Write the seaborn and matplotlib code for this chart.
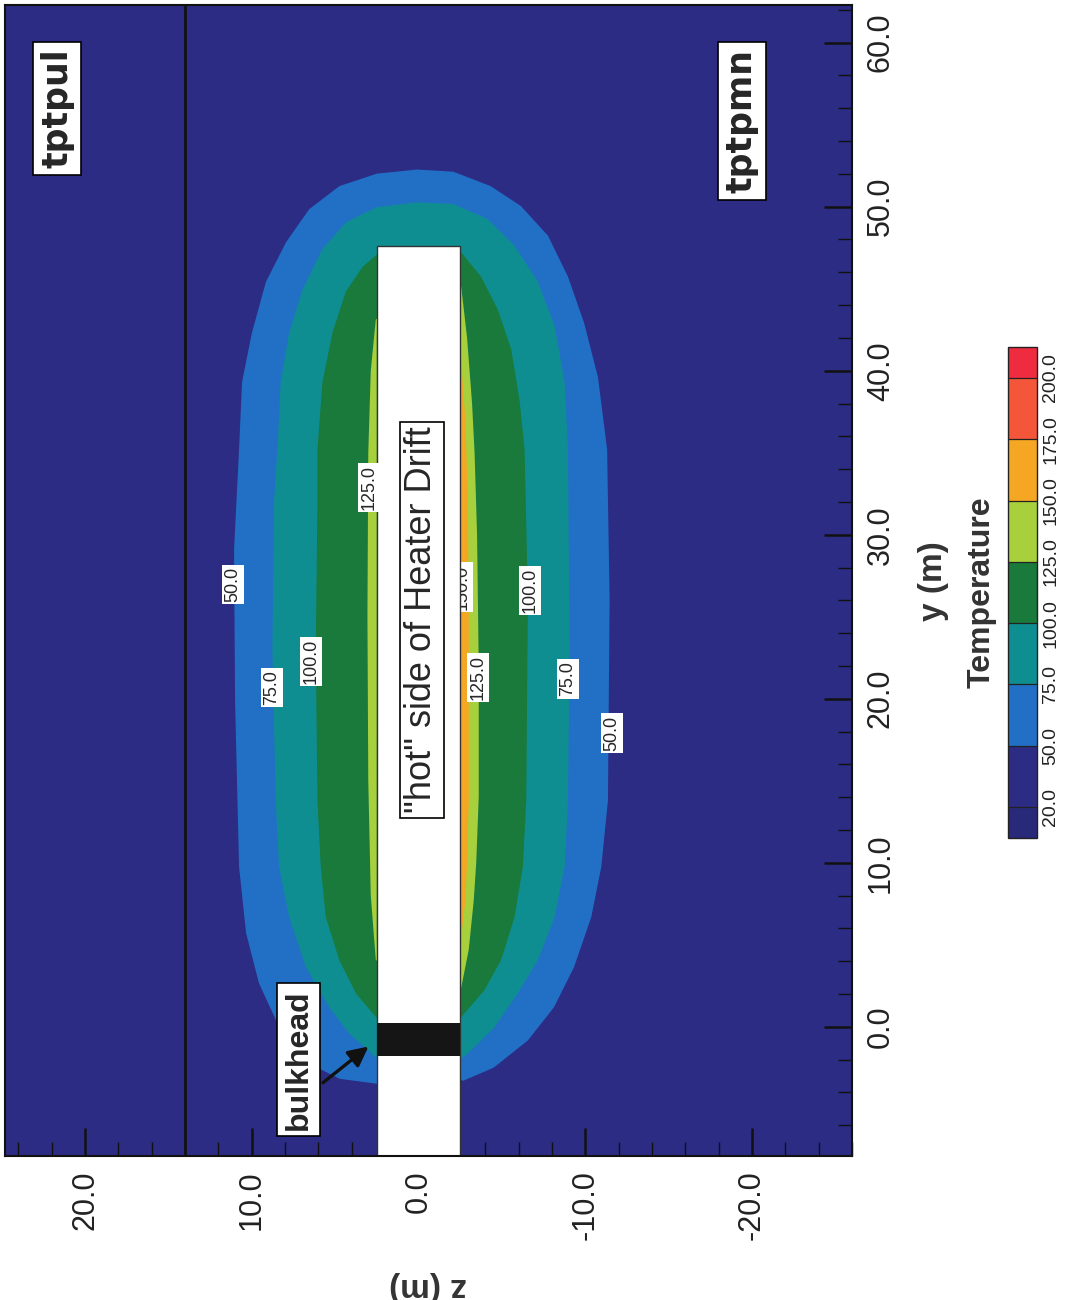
import numpy as np
import pandas as pd
import matplotlib
matplotlib.use("Agg")
import matplotlib.pyplot as plt
from matplotlib.colors import ListedColormap, BoundaryNorm
from matplotlib.cm import ScalarMappable
from matplotlib.patches import Rectangle
from matplotlib.ticker import MultipleLocator, FormatStrFormatter
import seaborn as sns

# ---------------- data ----------------
temp_levels = [20.0, 50.0, 75.0, 100.0, 125.0, 150.0, 175.0, 200.0]
band_colors = ["#2C2C85", "#2270C5", "#0F8E92", "#197A3C",
               "#A7D03C", "#F5A623", "#F4563A"]
under_color = "#29297A"
over_color = "#EE2B3F"

# isotherm outlines: y (m) along the drift, z (m) across
iso50_y = [-3.41, -3.11, -2.2, -0.37, 2.68, 5.73, 9.76, 19.9, 29.1, 35.2, 39.3,
           42.3, 45.4, 47.8, 49.8, 51.2, 51.95, 52.2, 52.07, 51.2, 50.0, 48.2,
           45.7, 42.9, 39.6, 35.2, 26.0, 13.8, 9.76, 6.7, 3.66, 1.22, -0.79,
           -2.44, -3.23]
iso50_z = [2.49, 4.71, 6.51, 8.13, 9.51, 10.28, 10.7, 10.94, 11.0, 10.7, 10.52,
           9.93, 9.09, 7.89, 6.51, 4.71, 2.49, 0.09, -2.07, -4.29, -6.09, -7.71,
           -8.91, -9.87, -10.7, -11.25, -11.4, -11.3, -10.9, -10.3, -9.27, -8.07,
           -6.51, -4.47, -2.67]

iso75_y = [-1.83, -0.37, 1.22, 3.66, 6.7, 9.76, 13.8, 23.0, 32.1, 35.2, 39.3,
           42.3, 44.9, 47.4, 49.0, 49.9, 50.2, 50.1, 49.2, 47.6, 45.4, 42.7,
           39.3, 35.2, 23.0, 13.8, 9.76, 6.7, 4.1, 2.07, 0.0, -1.6, -1.9]
iso75_z = [2.49, 4.1, 5.3, 6.69, 7.7, 8.3, 8.5, 8.7, 8.6, 8.4, 8.2,
           7.7, 6.9, 5.7, 4.3, 2.5, 0.1, -2.07, -4.1, -5.7, -7.1, -8.1,
           -8.7, -8.9, -9.0, -8.9, -8.7, -8.1, -7.1, -5.9, -4.5, -2.9, -2.49]

iso100_y = [0.61, 2.07, 4.1, 6.7, 9.76, 13.8, 23.0, 32.1, 35.2, 39.3, 42.3,
            44.8, 46.3, 47.0, 47.2, 45.7, 43.7, 41.3, 38.2, 35.2, 26.0, 13.8,
            9.76, 6.7, 4.1, 2.26, 0.85, 0.6]
iso100_z = [2.49, 3.7, 4.7, 5.5, 5.8, 6.0, 6.1, 6.0, 6.0, 5.7, 5.1,
            4.3, 3.3, 2.49, -2.49, -3.7, -4.7, -5.5, -6.0, -6.3, -6.5, -6.4,
            -6.2, -5.7, -4.9, -3.9, -2.7, -2.49]

iso125_left_y = [43.1, 40.0, 35.0, 25.0, 15.0, 8.0, 4.1]
iso125_left_z = [2.5, 2.8, 2.95, 3.0, 2.95, 2.8, 2.5]

iso125_right_y = [45.1, 42.0, 38.0, 35.0, 30.0, 22.0, 14.0, 10.0, 7.7, 4.7, 2.4]
iso125_right_z = [-2.5, -2.85, -3.15, -3.3, -3.45, -3.55, -3.55, -3.4, -3.25, -2.95, -2.5]

iso150_right_y = [40.5, 37.0, 32.0, 25.0, 18.0, 13.8, 10.0, 7.7, 5.5]
iso150_right_z = [-2.5, -2.75, -2.9, -2.95, -2.95, -2.95, -2.85, -2.75, -2.5]

drift_half_width = 2.5
drift_end_y = 47.6
bulkhead_y = [-1.8, 0.2]
layer_boundary_z = 14.0

contour_labels = [("50.0", 11.12, 26.95), ("75.0", 8.79, 20.67),
                  ("100.0", 6.45, 22.26), ("125.0", 2.97, 32.87),
                  ("125.0", -3.57, 21.3), ("100.0", -6.69, 26.6),
                  ("75.0", -8.97, 21.2), ("50.0", -11.6, 17.9)]
hidden_label = ("150.0", -2.6, 26.8)

z_ticks = [20.0, 10.0, 0.0, -10.0, -20.0]
y_ticks = [0.0, 10.0, 20.0, 30.0, 40.0, 50.0, 60.0]
z_lim = (24.8, -26.0)
y_lim = (-7.9, 62.3)

# ---------------- style ----------------
sns.set_theme(style="white")
plt.rcParams["font.family"] = ["Liberation Sans", "DejaVu Sans"]

fig = plt.figure(figsize=(10.69, 13.0), dpi=100)
ax = fig.add_axes([0.0047, 0.1105, 0.7923, 0.8857])
ax.set_facecolor(band_colors[0])


def fill_band(zs, ys, color, zo=1):
    ax.fill(zs, ys, color=color, lw=0, zorder=zo, joinstyle="round")
    df = pd.DataFrame({"z": zs, "y": ys})
    sns.lineplot(data=df, x="z", y="y", sort=False, estimator=None,
                 color=color, lw=1.5, ax=ax, zorder=zo,
                 solid_joinstyle="round")


fill_band(iso50_z, iso50_y, band_colors[1])
fill_band(iso75_z, iso75_y, band_colors[2])
fill_band(iso100_z, iso100_y, band_colors[3])
fill_band(iso125_left_z, iso125_left_y, band_colors[4])
fill_band(iso125_right_z, iso125_right_y, band_colors[4])
fill_band(iso150_right_z, iso150_right_y, band_colors[5])

# hidden (partly covered by the drift) label
ax.text(hidden_label[1], hidden_label[2], hidden_label[0], rotation=90,
        ha="center", va="center", fontsize=13, zorder=2,
        bbox=dict(boxstyle="square,pad=0.12", fc="white", ec="none"))

# drift
ax.add_patch(Rectangle((-drift_half_width, y_lim[0] - 2), 2 * drift_half_width,
                       drift_end_y - y_lim[0] + 2, fc="white", ec="#333333",
                       lw=1.0, zorder=3))
ax.add_patch(Rectangle((-drift_half_width, bulkhead_y[0]), 2 * drift_half_width,
                       bulkhead_y[1] - bulkhead_y[0], fc="#151515", ec="none",
                       zorder=4))

ax.axvline(layer_boundary_z, color="#111111", lw=2.0, zorder=4)

for txt, zz, yy in contour_labels:
    ax.text(zz, yy, txt, rotation=90, ha="center", va="center", fontsize=13,
            zorder=6, bbox=dict(boxstyle="square,pad=0.12", fc="white", ec="none"))

box = dict(boxstyle="square,pad=0.2", fc="white", ec="black", lw=1.2)
ax.text(21.68, 56.0, "tptpul", rotation=90, ha="center", va="center",
        fontsize=25, fontweight="bold", family="DejaVu Sans", zorder=6, bbox=box)
ax.text(-19.4, 55.2, "tptpmn", rotation=90, ha="center", va="center",
        fontsize=25, fontweight="bold", family="DejaVu Sans", zorder=6, bbox=box)
ax.text(7.2, -2.0, "bulkhead", rotation=90, ha="center", va="center",
        fontsize=23, fontweight="bold", zorder=6, bbox=box)
ax.text(-0.2, 24.8, '"hot" side of Heater Drift', rotation=90, ha="center",
        va="center", fontsize=26, zorder=6,
        bbox=dict(boxstyle="square,pad=0.12", fc="white", ec="black", lw=1.2))
ax.annotate("", xy=(3.0, -1.2), xytext=(5.73, -3.41), zorder=6,
            arrowprops=dict(arrowstyle="-|>", color="#111111", lw=2.4,
                            mutation_scale=30, shrinkA=0, shrinkB=0))

# axes
ax.set_xlim(*z_lim)
ax.set_ylim(*y_lim)
ax.set_xticks(z_ticks)
ax.set_yticks(y_ticks)
ax.xaxis.set_major_formatter(FormatStrFormatter("%.1f"))
ax.yaxis.set_major_formatter(FormatStrFormatter("%.1f"))
ax.xaxis.set_minor_locator(MultipleLocator(2))
ax.yaxis.set_minor_locator(MultipleLocator(2))
ax.yaxis.tick_right()
ax.yaxis.set_label_position("right")
ax.tick_params(which="both", direction="in", bottom=True, right=True,
               left=False, top=False, color="#111111", zorder=7)
ax.tick_params(which="major", length=20, width=1.8, labelsize=22,
               labelcolor="#222222", pad=10)
ax.tick_params(which="minor", length=10, width=1.0)
ax.tick_params(axis="x", labelrotation=90)
ax.tick_params(axis="y", labelrotation=90)
for lab in ax.get_yticklabels():
    lab.set_va("center")
for sp in ax.spines.values():
    sp.set_color("#111111")
    sp.set_linewidth(1.5)
    sp.set_zorder(8)

ax.set_xlabel("z (m)", rotation=180, fontsize=24, fontweight="bold",
              color="#333333", labelpad=22)
ax.set_ylabel("y (m)", rotation=90, fontsize=24, fontweight="bold",
              color="#333333", labelpad=16)

# colorbar
cmap = ListedColormap(band_colors)
cmap.set_under(under_color)
cmap.set_over(over_color)
norm = BoundaryNorm(temp_levels, cmap.N, extend="neither")
sm = ScalarMappable(norm=norm, cmap=cmap)
cax = fig.add_axes([0.9429, 0.3554, 0.0271, 0.3777])
cb = fig.colorbar(sm, cax=cax, extend="both", extendrect=True,
                  extendfrac=0.072, drawedges=True, ticks=temp_levels)
cb.outline.set_edgecolor("#222222")
cb.outline.set_linewidth(1.0)
cb.dividers.set_color("#222222")
cb.dividers.set_linewidth(0.9)
cb.ax.yaxis.set_ticks_position("right")
cb.ax.set_yticklabels([f"{v:.1f}" for v in temp_levels])
cb.ax.tick_params(length=0, labelsize=14, labelrotation=90, pad=4,
                  labelcolor="#222222")
for lab in cb.ax.get_yticklabels():
    lab.set_va("center")
cb.ax.yaxis.set_label_position("left")
cb.ax.set_ylabel("Temperature", rotation=90, fontsize=23, fontweight="bold",
                 color="#333333", labelpad=8)

fig.savefig("out.png", dpi=100)
